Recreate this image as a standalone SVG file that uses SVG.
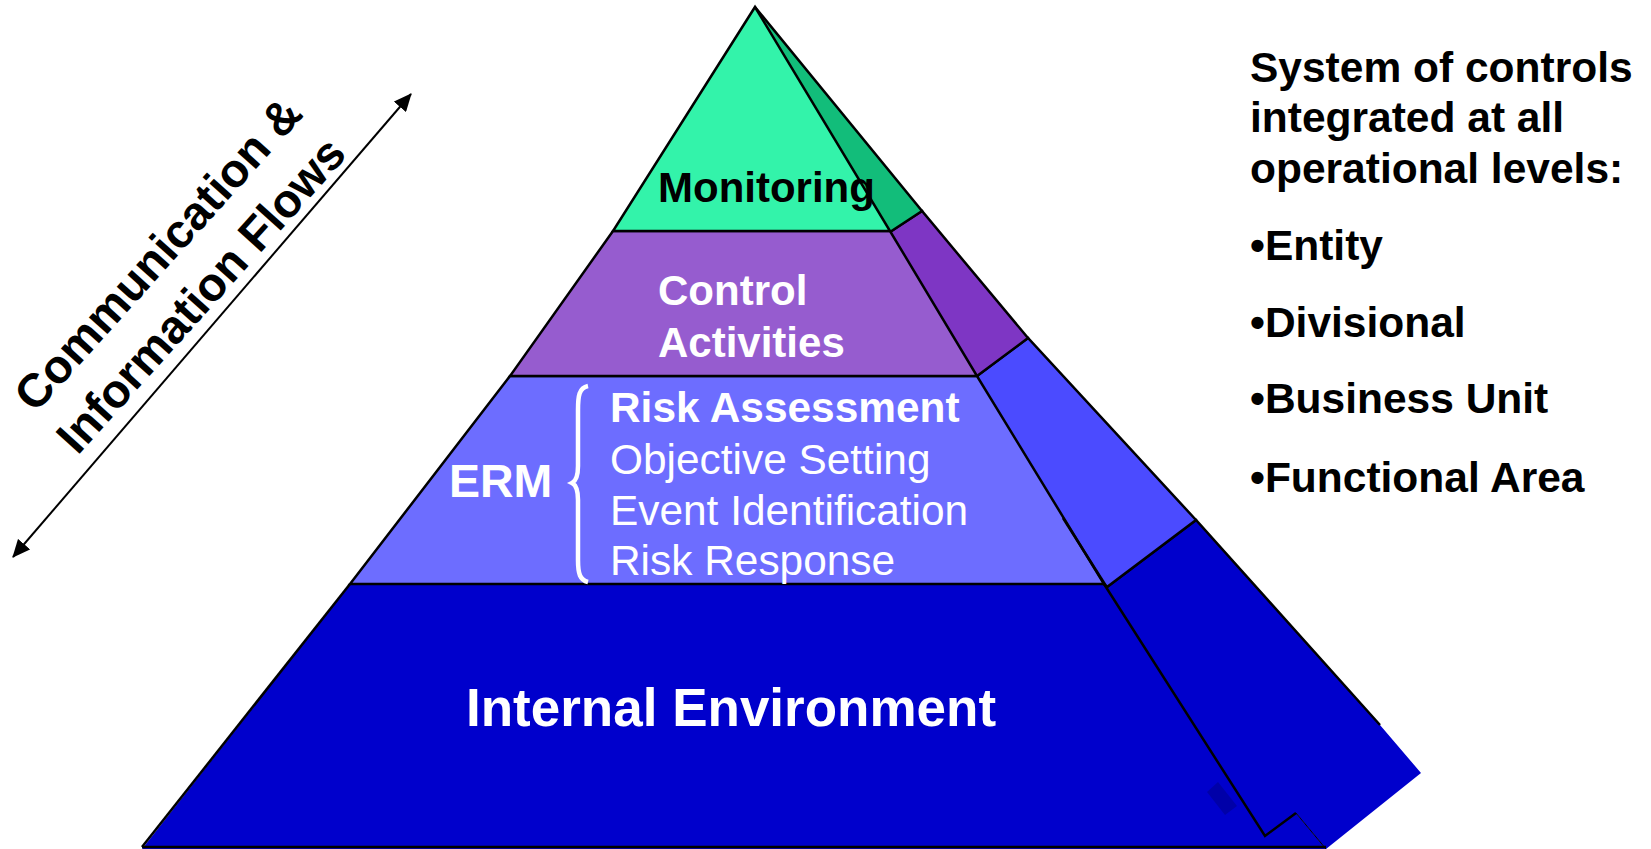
<svg xmlns="http://www.w3.org/2000/svg" width="1651" height="849" viewBox="0 0 1651 849">
<style>
.edge{stroke:#000;stroke-width:2.5;stroke-linejoin:miter;fill:none}
.b{font-family:"Liberation Sans",Arial,sans-serif;font-weight:bold}
.r{font-family:"Liberation Sans",Arial,sans-serif}
.w{fill:#fff}
.k{fill:#000}
</style>
<defs>
<marker id="ah" markerUnits="userSpaceOnUse" markerWidth="20" markerHeight="16" refX="17" refY="8" orient="auto-start-reverse">
<path d="M0,0 L18,8 L0,16 Z" fill="#000"/>
</marker>
</defs>
<rect width="1651" height="849" fill="#fff"/>

<g id="internal-environment">
<polygon points="350,584 1104,584 1265,836 1296,813 1326,849 142,849" fill="#0000CC"/>
<polygon points="1104,584 1107,587 1196,520 1380,725 1421,773 1326,849 1296,813 1265,836" fill="#0000CC"/>
<polygon points="1207,792 1218,782 1237,806 1225,815" fill="#0000A8"/>
<polyline class="edge" points="142,847 1326,847"/>
<polyline class="edge" points="350,584 142,847"/>
<polyline class="edge" points="1107,587 1196,520 1380,725"/>
<polyline class="edge" points="1104,584 1265,836 1296,813"/>
<line x1="1296" y1="813" x2="1326" y2="849" stroke="#000" stroke-width="1"/>
<text class="b w" x="466" y="726" font-size="53">Internal Environment</text>
</g>

<g id="erm">
<polygon points="510,376 977,376 1104,584 350,584" fill="#6D6DFF"/>
<polygon points="977,376 1028,338 1196,520 1107,587" fill="#4B4BFF"/>
<polygon class="edge" points="510,376 977,376 1104,584 350,584"/>
<polyline class="edge" points="977,376 1028,338 1196,520 1107,587 1104,584"/>
<line class="edge" x1="1063" y1="518" x2="1106" y2="586"/>
<text class="b w" x="449" y="497" font-size="46.5">ERM</text>
<path d="M588,386 C579,388 578,396 578,410 L578,466 C578,476 576,481 572,483 C576,485 578,490 578,500 L578,560 C578,574 580,580 588,582" fill="none" stroke="#fff" stroke-width="4.5"/>
<text class="b w" x="610" y="422" font-size="42.4">Risk Assessment</text>
<text class="r w" x="610" y="474" font-size="42.4">Objective Setting</text>
<text class="r w" x="610" y="525" font-size="42.4">Event Identification</text>
<text class="r w" x="610" y="575" font-size="42.4">Risk Response</text>
</g>

<g id="control-activities">
<polygon points="613,231 890,231 977,376 510,376" fill="#965CCF"/>
<polygon points="890,232 922,211 1028,338 977,376" fill="#7E36C4"/>
<polygon class="edge" points="613,231 890,231 977,376 510,376"/>
<polyline class="edge" points="890,232 922,211 1028,338 977,376"/>
<text class="b w" x="658" y="305" font-size="42">Control</text>
<text class="b w" x="658" y="357" font-size="42">Activities</text>
</g>

<g id="monitoring">
<polygon points="755,7 890,231 613,231" fill="#33F3AA"/>
<polygon points="755,7 922,211 890,232" fill="#12BD7A"/>
<polygon class="edge" points="755,7 890,231 613,231"/>
<polyline class="edge" points="755,7 922,211 890,232"/>
<text class="b k" x="658" y="202" font-size="42">Monitoring</text>
</g>

<g id="connectors">
<line x1="13" y1="557" x2="411" y2="94" stroke="#000" stroke-width="2" marker-start="url(#ah)" marker-end="url(#ah)"/>
</g>

<g id="flows-label">
<text class="b k" font-size="47" text-anchor="middle" transform="translate(158,254) rotate(-48)" dy="16">Communication &amp;</text>
<text class="b k" font-size="47" text-anchor="middle" transform="translate(201,295) rotate(-48)" dy="16">Information Flows</text>
</g>

<g id="levels-text">
<text class="b k" x="1250" y="82" font-size="42.5">System of controls</text>
<text class="b k" x="1250" y="132" font-size="42.5">integrated at all</text>
<text class="b k" x="1250" y="183" font-size="42.5">operational levels:</text>
<text class="b k" x="1250" y="260" font-size="42.5">•Entity</text>
<text class="b k" x="1250" y="337" font-size="42.5">•Divisional</text>
<text class="b k" x="1250" y="413" font-size="42.5">•Business Unit</text>
<text class="b k" x="1250" y="492" font-size="42.5">•Functional Area</text>
</g>
</svg>
